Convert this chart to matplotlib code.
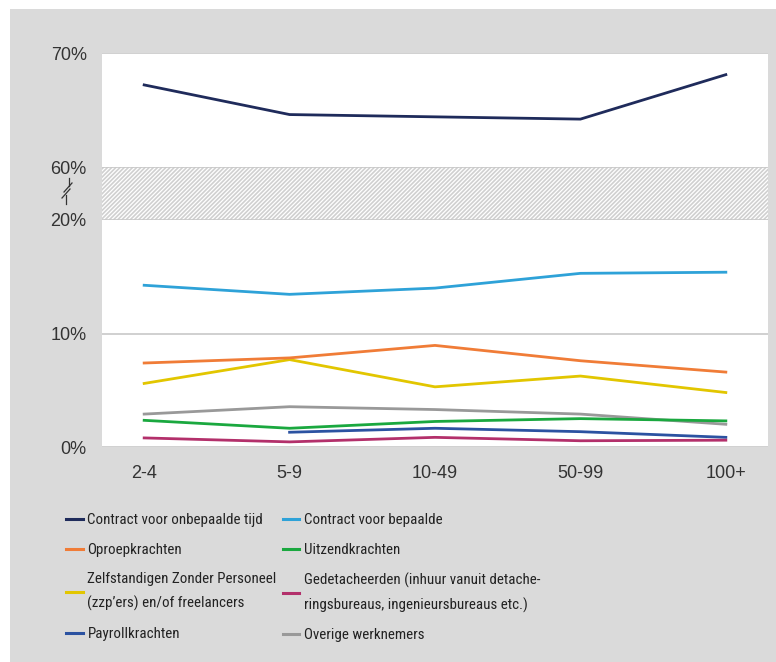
import numpy as np
import matplotlib
matplotlib.use("Agg")
import matplotlib.pyplot as plt
from matplotlib.patches import Rectangle
from matplotlib.lines import Line2D

categories = ["2-4", "5-9", "10-49", "50-99", "100+"]

onbepaald = [67.2, 64.6, 64.4, 64.2, 68.1]
bepaald = [14.25, 13.45, 14.0, 15.3, 15.4]
oproep = [7.4, 7.85, 8.95, 7.6, 6.6]
zzp = [5.6, 7.7, 5.3, 6.25, 4.8]
uitzend = [2.35, 1.65, 2.25, 2.5, 2.3]
gedetacheerd = [0.8, 0.45, 0.85, 0.55, 0.6]
payroll = [np.nan, 1.3, 1.65, 1.35, 0.85]
overige = [2.9, 3.55, 3.3, 2.9, 2.0]

labels = {
    "onbepaald": "Contract voor onbepaalde tijd",
    "bepaald": "Contract voor bepaalde",
    "oproep": "Oproepkrachten",
    "uitzend": "Uitzendkrachten",
    "zzp": "Zelfstandigen Zonder Personeel\n(zzp\u2019ers) en/of freelancers",
    "gedetacheerd": "Gedetacheerden (inhuur vanuit detache-\nringsbureaus, ingenieursbureaus etc.)",
    "payroll": "Payrollkrachten",
    "overige": "Overige werknemers",
}
colors = {
    "onbepaald": "#1f2b5b",
    "bepaald": "#2ea2d8",
    "oproep": "#f07c37",
    "uitzend": "#1aa83f",
    "zzp": "#e2c600",
    "gedetacheerd": "#b3306b",
    "payroll": "#2b52a1",
    "overige": "#999999",
}
series_low = {
    "bepaald": bepaald, "oproep": oproep, "zzp": zzp, "overige": overige,
    "uitzend": uitzend, "payroll": payroll, "gedetacheerd": gedetacheerd,
}

W, H = 776, 662
fig = plt.figure(figsize=(W / 100, H / 100), dpi=100)
fig.patch.set_facecolor("white")

def fx(px):
    return px / W

def fy(py):
    return 1 - py / H

# grey panel background
fig.patches.append(Rectangle((fx(10), 0), 1 - fx(10), fy(9), transform=fig.transFigure,
                             facecolor="#dadada", edgecolor="none", zorder=-10))

L, R = 102, 768
TOP, Y60, Y20, Y0 = 53, 167, 220, 447
x = np.arange(len(categories))
xlim = (-0.29, len(categories) - 1 + 0.29)

tickfont = dict(family=["Liberation Sans", "DejaVu Sans"], size=13, color="#333333")
grid_c = "#c8c8c8"

ax_top = fig.add_axes([fx(L), fy(Y60), fx(R) - fx(L), fy(TOP) - fy(Y60)])
ax_bot = fig.add_axes([fx(L), fy(Y0), fx(R) - fx(L), fy(Y20) - fy(Y0)])
ax_band = fig.add_axes([fx(L), fy(Y20), fx(R) - fx(L), fy(Y60) - fy(Y20)])

for ax in (ax_top, ax_bot, ax_band):
    ax.set_facecolor("white")
    for s in ax.spines.values():
        s.set_visible(False)
    ax.set_xlim(*xlim)
    ax.tick_params(length=0)

# hatched break band
ax_band.set_xticks([]); ax_band.set_yticks([])
ax_band.set_ylim(0, 1)
plt.rcParams["hatch.color"] = "#d0d0d0"
plt.rcParams["hatch.linewidth"] = 1.2
ax_band.add_patch(Rectangle((0, 0), 1, 1, transform=ax_band.transAxes,
                            facecolor="white", edgecolor="#d0d0d0", hatch="////////", linewidth=0))
ax_band.axhline(1, color=grid_c, lw=1.2)
ax_band.axhline(0, color=grid_c, lw=1.2)

# top axis
ax_top.set_ylim(60, 70)
ax_top.set_yticks([60, 70])
ax_top.set_yticklabels(["60%", "70%"], **tickfont)
ax_top.set_xticks([])
ax_top.axhline(70, color=grid_c, lw=1.2, zorder=1)
ax_top.plot(x, onbepaald, color=colors["onbepaald"], lw=2.0, zorder=3)

# bottom axis
ax_bot.set_ylim(0, 20)
ax_bot.set_yticks([0, 10, 20])
ax_bot.set_yticklabels(["0%", "10%", "20%"], **tickfont)
ax_bot.set_xticks(x)
ax_bot.set_xticklabels(categories, **tickfont)
ax_bot.tick_params(axis="x", pad=13)
ax_bot.tick_params(axis="y", pad=11)
ax_top.tick_params(axis="y", pad=11)
for yv in (0, 10):
    ax_bot.axhline(yv, color=grid_c, lw=1.2, zorder=1)

handles = {}
handles["onbepaald"] = Line2D([], [], color=colors["onbepaald"], lw=2.2)
for key in ["overige", "uitzend", "payroll", "gedetacheerd", "zzp", "oproep", "bepaald"]:
    ax_bot.plot(x, series_low[key], color=colors[key], lw=2.0, zorder=3)
    handles[key] = Line2D([], [], color=colors[key], lw=2.2)

# axis-break marker
brk = [((69, 178), (69, 186)), ((64, 192), (72, 183)), ((62, 198), (70, 189)), ((66, 195), (66, 204))]
for (x0, y0), (x1, y1) in brk:
    fig.add_artist(Line2D([fx(x0), fx(x1)], [fy(y0), fy(y1)], transform=fig.transFigure,
                          color="#333333", lw=0.9))

order = ["onbepaald", "oproep", "zzp", "payroll", "bepaald", "uitzend", "gedetacheerd", "overige"]
fs = 10.8
leg = fig.legend([handles[k] for k in order], [labels[k] for k in order],
                 ncol=2, loc="upper left", bbox_to_anchor=(fx(66), fy(513)),
                 frameon=False, prop=dict(family=["Roboto Condensed", "DejaVu Sans"], size=fs),
                 handlelength=1.1, handletextpad=0.33, columnspacing=0.4,
                 labelspacing=1.05, borderpad=0, borderaxespad=0)
for t in leg.get_texts():
    t.set_color("#222222")
    t.set_linespacing(1.8)

fig.savefig("out.png", dpi=100)
